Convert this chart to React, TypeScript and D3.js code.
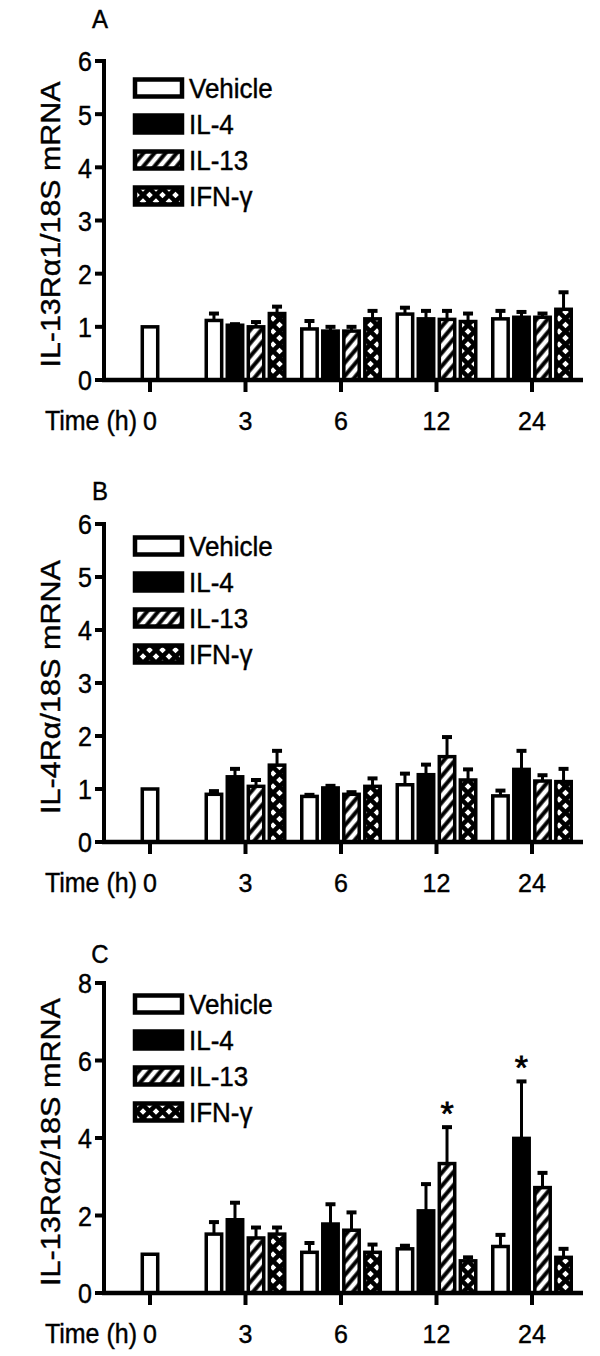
import React, { useEffect, useRef } from 'react';
import * as d3 from 'd3';

const times = ['0', '3', '6', '12', '24'];
const groups = ['Vehicle', 'IL-4', 'IL-13', 'IFN-γ'];

// A: IL-13Ra1
const aVehicle = [1.0, 1.12, 0.96, 1.24, 1.15];
const aIL4 = [null, 1.03, 0.92, 1.15, 1.18];
const aIL13 = [null, 1.0, 0.92, 1.14, 1.18];
const aIFN = [null, 1.25, 1.15, 1.1, 1.33];
const aVehicleErr = [0, 0.13, 0.15, 0.12, 0.15];
const aIL4Err = [0, 0.02, 0.08, 0.15, 0.1];
const aIL13Err = [0, 0.09, 0.08, 0.16, 0.07];
const aIFNErr = [0, 0.13, 0.15, 0.15, 0.32];

// B: IL-4Ra
const bVehicle = [1.0, 0.9, 0.86, 1.08, 0.87];
const bIL4 = [null, 1.23, 1.02, 1.27, 1.37];
const bIL13 = [null, 1.05, 0.9, 1.61, 1.15];
const bIFN = [null, 1.45, 1.05, 1.17, 1.14];
const bVehicleErr = [0, 0.06, 0.03, 0.21, 0.1];
const bIL4Err = [0, 0.15, 0.04, 0.19, 0.35];
const bIL13Err = [0, 0.12, 0.04, 0.37, 0.11];
const bIFNErr = [0, 0.27, 0.15, 0.2, 0.24];

// C: IL-13Ra2
const cVehicle = [1.0, 1.52, 1.05, 1.14, 1.2];
const cIL4 = [null, 1.89, 1.78, 2.12, 3.99];
const cIL13 = [null, 1.42, 1.62, 3.34, 2.72];
const cIFN = [null, 1.52, 1.05, 0.83, 0.92];
const cVehicleErr = [0, 0.31, 0.24, 0.08, 0.3];
const cIL4Err = [0, 0.44, 0.51, 0.69, 1.47];
const cIL13Err = [0, 0.27, 0.46, 0.94, 0.38];
const cIFNErr = [0, 0.17, 0.2, 0.09, 0.22];
const cStarTimes = ['12', '24'];
const cStarGroups = ['IL-13', 'IL-4'];

const ticks6 = [0, 1, 2, 3, 4, 5, 6];
const ticks8 = [0, 2, 4, 6, 8];

const panels = [
  { letter: 'A', label: 'IL-13Rα1/18S mRNA', labelLen: 286, yMax: 6, yTicks: ticks6, top: 61, bottom: 380, letterY: 28, legendY: 88,
    means: [aVehicle, aIL4, aIL13, aIFN], errs: [aVehicleErr, aIL4Err, aIL13Err, aIFNErr], starTimes: [], starGroups: [] },
  { letter: 'B', label: 'IL-4Rα/18S mRNA', labelLen: 254, yMax: 6, yTicks: ticks6, top: 524, bottom: 842, letterY: 500, legendY: 546,
    means: [bVehicle, bIL4, bIL13, bIFN], errs: [bVehicleErr, bIL4Err, bIL13Err, bIFNErr], starTimes: [], starGroups: [] },
  { letter: 'C', label: 'IL-13Rα2/18S mRNA', labelLen: 288, yMax: 8, yTicks: ticks8, top: 983, bottom: 1293, letterY: 963, legendY: 1004,
    means: [cVehicle, cIL4, cIL13, cIFN], errs: [cVehicleErr, cIL4Err, cIL13Err, cIFNErr], starTimes: cStarTimes, starGroups: cStarGroups },
];

const FONT = 'Arial, "Liberation Sans", Helvetica, sans-serif';

export default function App() {
  const ref = useRef<HTMLDivElement>(null);

  useEffect(() => {
    const container = ref.current;
    d3.select(container).selectAll('*').remove();

    const svg = d3.select(container)
      .append('svg')
      .attr('width', 600)
      .attr('height', 1356)
      .style('display', 'block')
      .style('font-family', FONT);

    svg.append('rect').attr('width', 600).attr('height', 1356).attr('fill', '#fff');

    const defs = svg.append('defs');
    const hatch = defs.append('pattern')
      .attr('id', 'hatch')
      .attr('patternUnits', 'userSpaceOnUse')
      .attr('width', 8.5).attr('height', 8.5)
      .attr('patternTransform', 'rotate(40)');
    hatch.append('rect').attr('width', 8.5).attr('height', 8.5).attr('fill', '#fff');
    hatch.append('line').attr('x1', 4.25).attr('x2', 4.25).attr('y1', 0).attr('y2', 8.5)
      .attr('stroke', '#000').attr('stroke-width', 4);

    const cross = defs.append('pattern')
      .attr('id', 'cross')
      .attr('patternUnits', 'userSpaceOnUse')
      .attr('width', 13).attr('height', 13);
    cross.append('rect').attr('width', 13).attr('height', 13).attr('fill', '#fff');
    cross.append('path').attr('d', 'M0,0L13,13M13,0L0,13')
      .attr('stroke', '#000').attr('stroke-width', 4.5);

    const fills = ['#fff', '#000', 'url(#hatch)', 'url(#cross)'];

    const axisX = 104;
    const xEnd = 583;
    const x = d3.scalePoint<string>().domain(times).range([150, 532]);
    const band = d3.scaleBand<string>().domain(groups).range([-41, 41]).paddingInner(0.1);
    const bw = band.bandwidth() - 3.5;

    const stretchText = (g: any, tx: number, ty: number, txt: string, size: number, anchor: string) =>
      g.append('text')
        .attr('transform', `translate(${tx},${ty}) scale(1,1.1)`)
        .attr('text-anchor', anchor)
        .attr('font-size', size)
        .attr('fill', '#000')
        .attr('stroke', '#000')
        .attr('stroke-width', 0.4)
        .text(txt);

    panels.forEach(p => {
      const y = d3.scaleLinear().domain([0, p.yMax]).range([p.bottom, p.top]);
      const g = svg.append('g');

      // panel letter
      stretchText(g, 100, p.letterY, p.letter, 24, 'middle');

      // y axis title
      g.append('text')
        .attr('transform', `translate(60,${(p.top + p.bottom) / 2 + 4}) rotate(-90)`)
        .attr('text-anchor', 'middle')
        .attr('font-size', 27)
        .attr('stroke', '#000')
        .attr('stroke-width', 0.4)
        .attr('textLength', p.labelLen)
        .attr('lengthAdjust', 'spacingAndGlyphs')
        .text(p.label);

      // bars + error bars
      groups.forEach((name, gi) => {
        times.forEach((t, ti) => {
          const v = p.means[gi][ti];
          if (v == null) return;
          const cx = ti === 0 ? (x(t) as number) : (x(t) as number) + (band(name) as number) + band.bandwidth() / 2;
          const e = p.errs[gi][ti];
          if (e > 0) {
            g.append('line')
              .attr('x1', cx).attr('x2', cx)
              .attr('y1', y(v)).attr('y2', y(v + e))
              .attr('stroke', '#000').attr('stroke-width', 3);
            g.append('line')
              .attr('x1', cx - 5).attr('x2', cx + 5)
              .attr('y1', y(v + e)).attr('y2', y(v + e))
              .attr('stroke', '#000').attr('stroke-width', 4);
          }
          g.append('rect')
            .attr('x', cx - bw / 2)
            .attr('y', y(v))
            .attr('width', bw)
            .attr('height', y(0) - y(v))
            .attr('fill', fills[gi])
            .attr('stroke', '#000')
            .attr('stroke-width', 3.5);
        });
      });

      // significance stars
      p.starTimes.forEach((t, i) => {
        const gi = groups.indexOf(p.starGroups[i]);
        const ti = times.indexOf(t);
        const v = p.means[gi][ti] as number;
        const e = p.errs[gi][ti];
        const cx = (x(t) as number) + (band(p.starGroups[i]) as number) + band.bandwidth() / 2;
        g.append('text')
          .attr('x', cx)
          .attr('y', y(v + e) - 2)
          .attr('text-anchor', 'middle')
          .attr('font-size', 34)
          .attr('stroke', '#000')
          .attr('stroke-width', 0.8)
          .text('*');
      });

      // y axis
      g.append('line')
        .attr('x1', axisX).attr('x2', axisX)
        .attr('y1', y(p.yMax) - 2).attr('y2', y(0) + 2)
        .attr('stroke', '#000').attr('stroke-width', 4);
      const yt = g.selectAll('.ytick').data(p.yTicks).enter().append('g')
        .attr('class', 'ytick')
        .attr('transform', d => `translate(0,${y(d)})`);
      yt.append('line')
        .attr('x1', axisX - 9).attr('x2', axisX)
        .attr('stroke', '#000').attr('stroke-width', 4);
      yt.append('text')
        .attr('x', axisX - 12)
        .attr('dy', '0.38em')
        .attr('text-anchor', 'end')
        .attr('font-size', 25)
        .attr('stroke', '#000')
        .attr('stroke-width', 0.4)
        .attr('transform', 'scale(1,1.1)')
        .text(d => String(d));

      // x axis
      g.append('line')
        .attr('x1', axisX - 2).attr('x2', xEnd)
        .attr('y1', y(0)).attr('y2', y(0))
        .attr('stroke', '#000').attr('stroke-width', 4.5);
      const xt = g.selectAll('.xtick').data(times).enter().append('g')
        .attr('class', 'xtick')
        .attr('transform', d => `translate(${x(d)},${y(0)})`);
      xt.append('line')
        .attr('y1', 0).attr('y2', 12)
        .attr('stroke', '#000').attr('stroke-width', 4);
      xt.append('text')
        .attr('y', 50)
        .attr('text-anchor', 'middle')
        .attr('font-size', 25)
        .attr('stroke', '#000')
        .attr('stroke-width', 0.4)
        .text(d => d);
      stretchText(g, 137, y(0) + 50, 'Time (h)', 25, 'end');

      // legend
      groups.forEach((name, gi) => {
        const cy = p.legendY + gi * 36;
        g.append('rect')
          .attr('x', 135).attr('y', cy - 8.5)
          .attr('width', 47).attr('height', 17)
          .attr('fill', fills[gi])
          .attr('stroke', '#000').attr('stroke-width', 4.5);
        g.append('text')
          .attr('transform', `translate(189,${cy}) scale(1,1.08)`)
          .attr('dy', '0.36em')
          .attr('font-size', 26)
          .attr('stroke', '#000')
          .attr('stroke-width', 0.4)
          .text(name);
      });
    });

    return () => {
      d3.select(container).selectAll('*').remove();
    };
  }, []);

  return <div ref={ref} style={{ position: 'absolute', left: 0, top: 0 }} />;
}
